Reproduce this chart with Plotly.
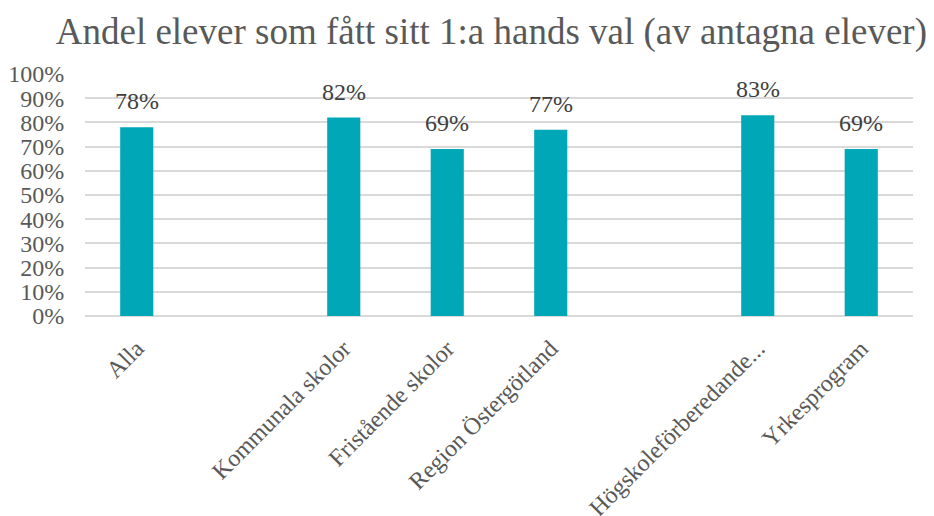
import plotly.graph_objects as go

categories = ["Alla", "", "Kommunala skolor", "Fristående skolor", "Region Östergötland",
              "", "Högskoleförberedande...", "Yrkesprogram"]
values = [0.78, None, 0.82, 0.69, 0.77, None, 0.83, 0.69]
labels = ["78%", "", "82%", "69%", "77%", "", "83%", "69%"]
y_ticks = [i / 10 for i in range(11)]
y_tick_text = [f"{i * 10}%" for i in range(11)]

positions = list(range(len(categories)))
font_family = "'Times New Roman', 'Liberation Serif', 'DejaVu Serif', serif"
grey = "#595959"

fig = go.Figure(go.Bar(
    x=positions,
    y=values,
    marker=dict(color="#00A7B6", line=dict(width=0)),
    hoverinfo="x+y",
))

annotations = [
    dict(x=p, y=v, xref="x", yref="y", text=t, showarrow=False,
         yanchor="middle", yshift=26,
         font=dict(family=font_family, size=24, color="#404040"))
    for p, v, t in zip(positions, values, labels) if v is not None
]

# browser body margin of 8px offsets the figure; size accordingly
fig.update_layout(
    width=926, height=508,
    paper_bgcolor="white", plot_bgcolor="white",
    margin=dict(l=77, r=20.5, t=65.5, b=200.3, autoexpand=False),
    bargap=0.68,
    showlegend=False,
    annotations=annotations,
    title=dict(text="Andel elever som fått sitt 1:a hands val (av antagna elever)",
               font=dict(family=font_family, size=37, color=grey),
               x=0.522, xanchor="center", xref="container",
               y=0.955, yanchor="middle", yref="container"),
    font=dict(family=font_family, color=grey),
)
fig.update_xaxes(
    range=[-0.5, len(categories) - 0.5],
    tickmode="array", tickvals=positions, ticktext=categories,
    tickangle=-45, tickfont=dict(family=font_family, size=24, color=grey),
    ticks="outside", ticklen=8, tickcolor="rgba(0,0,0,0)",
    showgrid=False, zeroline=False, showline=False, automargin=False,
)
fig.update_yaxes(
    range=[0, 1], tickmode="array", tickvals=y_ticks, ticktext=y_tick_text,
    tickfont=dict(family=font_family, size=24, color=grey),
    showgrid=True, gridcolor="#d9d9d9", gridwidth=1.5,
    zeroline=True, zerolinecolor="#d9d9d9", zerolinewidth=2,
    ticks="outside", ticklen=15, tickcolor="rgba(0,0,0,0)",
    showline=False, automargin=False,
)

fig.write_html("out.html")
